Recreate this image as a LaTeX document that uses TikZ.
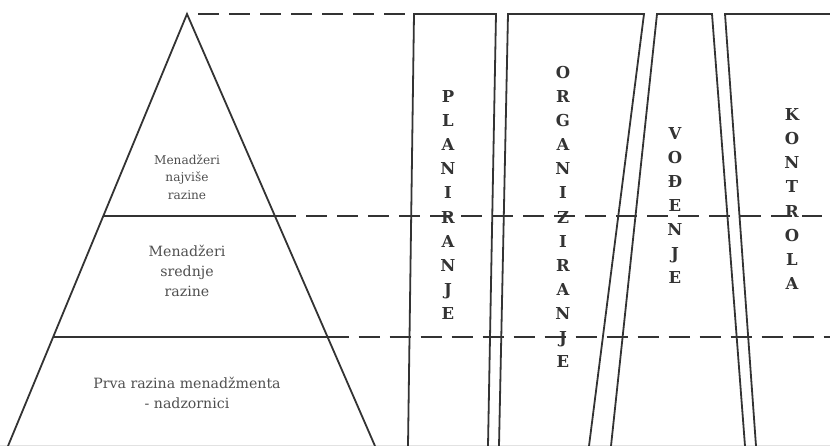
\documentclass[tikz,border=0pt]{standalone}
\usepackage{fontspec}
\setmainfont{DejaVu Serif}
\definecolor{linec}{HTML}{333333}
\definecolor{textc}{HTML}{4F4F4F}
\definecolor{faint}{HTML}{E2E2E2}
\begin{document}
\begin{tikzpicture}[x=1bp,y=-1bp,
  edge/.style={draw=linec, line width=1.8bp, line join=miter},
  dashline/.style={draw=linec, line width=2.2bp, dash pattern=on 21bp off 10bp},
  lvl/.style={text=textc, align=center, inner sep=0pt},
  col/.style={text=linec, align=center, inner sep=0pt,
    font=\bfseries\fontsize{16.5}{24.2}\selectfont}]
\useasboundingbox (0,0) rectangle (830,446);
% faint bottom edge
\draw[faint, line width=1bp] (0,445) -- (830,445);
% pyramid points
\coordinate (apex) at (187,14);
\coordinate (bl) at (8,446);
\coordinate (br) at (375,446);
\coordinate (l1) at (103.3,216);
\coordinate (r1) at (275,216);
\coordinate (l2) at (53,337);
\coordinate (r2) at (327.6,337);
\draw[edge] (bl) -- (apex) -- (br);
\draw[edge] (l1) -- (r1);
\draw[edge] (l2) -- (r2);
% columns
\coordinate (p1) at (408,446); \coordinate (p2) at (414,14);
\coordinate (p3) at (496,14);  \coordinate (p4) at (488,446);
\draw[edge] (p1) -- (p2) -- (p3) -- (p4);
\coordinate (o1) at (499,446); \coordinate (o2) at (508,14);
\coordinate (o3) at (644,14);  \coordinate (o4) at (589,446);
\draw[edge] (o1) -- (o2) -- (o3) -- (o4);
\coordinate (v1) at (611,446); \coordinate (v2) at (657,14);
\coordinate (v3) at (712,14);  \coordinate (v4) at (745,446);
\draw[edge] (v1) -- (v2) -- (v3) -- (v4);
\coordinate (k1) at (756,446); \coordinate (k2) at (725,14);
\coordinate (k3) at (831,14);
\draw[edge] (k1) -- (k2) -- (k3);
% dashed level lines
\coordinate (t0) at (198,14); \coordinate (t1) at (409,14);
\coordinate (d1) at (822,216);
\coordinate (d2) at (830,337);
\draw[dashline] (t0) -- (t1);
\draw[dashline] (r1) -- (d1);
\draw[dashline] (r2) -- (d2);
% pyramid labels
\node[lvl, font=\fontsize{12.2}{17.5}\selectfont] (top) at (187,177) {Menadžeri\\najviše\\razine};
\node[lvl, font=\fontsize{14.2}{20}\selectfont] (mid) at (187,271) {Menadžeri\\srednje\\razine};
\node[lvl, font=\fontsize{14.2}{20}\selectfont] (low) at (187,393) {Prva razina menadžmenta\\- nadzornici};
% column labels
\node[col] (plan) at (448,205) {P\\L\\A\\N\\I\\R\\A\\N\\J\\E};
\node[col] (org) at (563,217) {O\\R\\G\\A\\N\\I\\Z\\I\\R\\A\\N\\J\\E};
\node[col] (vod) at (675,205.5) {V\\O\\Đ\\E\\N\\J\\E};
\node[col] (kon) at (792,199) {K\\O\\N\\T\\R\\O\\L\\A};
\end{tikzpicture}
\end{document}
